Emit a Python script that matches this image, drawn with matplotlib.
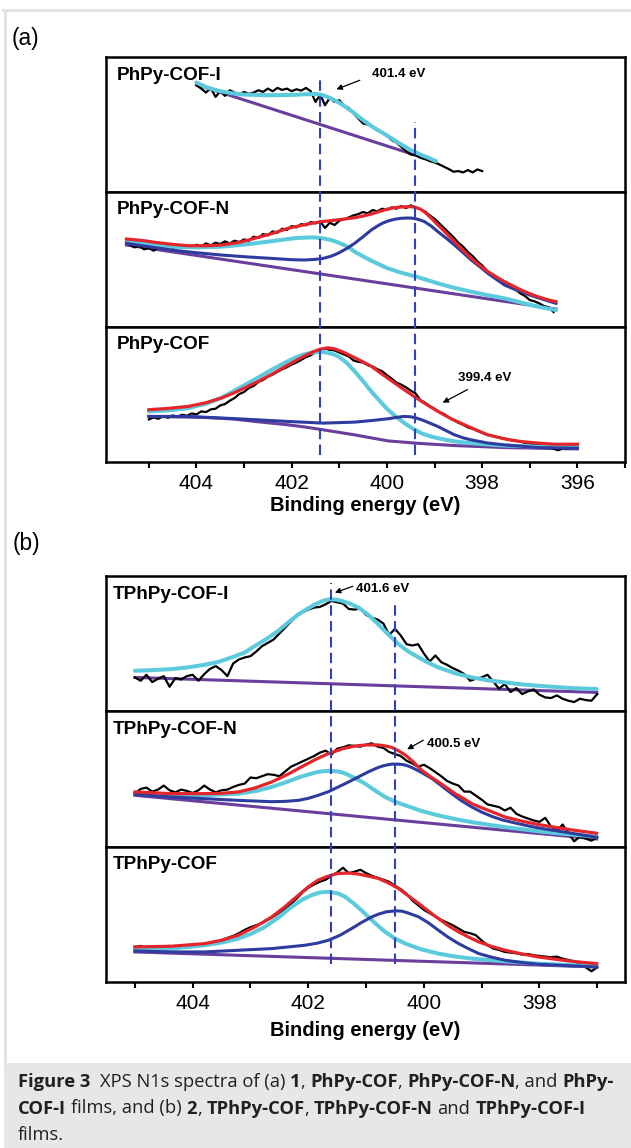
import numpy as np
import matplotlib
matplotlib.use("Agg")
import matplotlib.pyplot as plt
from matplotlib.ticker import MultipleLocator
from matplotlib.lines import Line2D
from matplotlib.patches import Rectangle

W, H, DPI = 631, 1148, 100
plt.rcParams["font.family"] = ["Liberation Sans", "DejaVu Sans"]

RED = "#e4262b"
CYAN = "#5ccadd"
BLUE = "#2d3c9e"
PURPLE = "#6a3e9c"
DASH = "#3042b6"

# ---------------- (a) PhPy-COF films, N1s ----------------
A_PEAKS = [401.4, 399.4]

# PhPy-COF-I
a1_raw_range = (404.0, 398.0)
a1_raw = [320, 310, 298, 312, 285, 302, 288, 305, 298, 292,
          300, 294, 298, 305, 300, 310, 302, 312, 306, 310,
          302, 308, 304, 312, 302, 270, 292, 260, 282, 270,
          275, 258, 252, 235, 220, 205, 202, 195, 188, 178,
          170, 155, 148, 135, 122, 112, 110, 102, 98, 92,
          88, 82, 75, 68, 60, 62, 58, 65, 58, 67, 62]
a1_c1_e = [404.0, 403.85, 403.75, 403.6, 403.5, 403.25, 403.0, 402.5, 402.0, 401.7, 401.5,
           401.4, 401.3, 401.2, 401.1, 401.0, 400.9, 400.8, 400.7, 400.6, 400.5,
           400.4, 400.3, 400.2, 400.1, 399.9, 399.7, 399.5, 399.3, 399.1, 398.97]
a1_c1_i = [328, 318, 312, 306, 302, 296, 292, 290, 291, 293, 294,
           292, 288, 282, 275, 267, 258, 248, 238, 226, 215,
           205, 195, 186, 178, 160, 142, 125, 112, 100, 92]
a1_bg_e = [404.0, 398.97]
a1_bg_i = [322, 90]

# PhPy-COF-N
a2_raw_range = (405.4, 396.5)
a2_raw = [246, 238, 242, 232, 236, 228, 238, 234, 242, 236,
          244, 238, 245, 240, 246, 241, 250, 244, 252, 248,
          256, 250, 258, 254, 262, 258, 270, 266, 278, 274,
          286, 282, 294, 290, 302, 298, 308, 304, 314, 310,
          316, 296, 312, 305, 318, 322, 328, 334, 338, 344,
          340, 350, 346, 354, 350, 358, 354, 362, 356, 364,
          358, 352, 346, 334, 324, 310, 296, 282, 268, 252,
          240, 224, 212, 196, 184, 168, 158, 148, 140, 130,
          122, 112, 100, 92, 80, 76, 70, 62, 58, 44]
a2_env_e = [405.47, 405.1, 404.87, 404.5, 404.17, 403.8, 403.48, 403.1, 402.78, 402.4, 402.08,
            401.7, 401.38, 401.0, 400.68, 400.5, 400.33, 400.15, 399.98, 399.85, 399.7, 399.58,
            399.49, 399.4, 399.3, 399.2, 399.07, 398.93, 398.75, 398.58, 398.4, 398.23, 398.05,
            397.88, 397.7, 397.53, 397.35, 397.18, 397.0, 396.83, 396.65, 396.45]
a2_env_i = [263, 258, 253, 247, 243, 243, 245, 253, 265, 280, 295,
            307, 315, 321, 327, 332, 338, 346, 353, 357, 359, 360,
            360, 358, 353, 343, 326, 305, 280, 255, 229, 205, 184,
            165, 149, 135, 122, 110, 99, 90, 82, 75]
a2_c1_e = [405.47, 405.0, 404.52, 404.0, 403.48, 403.1, 402.78, 402.4, 402.08, 401.9, 401.75,
           401.6, 401.45, 401.3, 401.17, 401.03, 400.9, 400.78, 400.68, 400.5, 400.33, 400.15,
           399.98, 399.7, 399.38, 398.93, 398.6, 398.23, 397.9, 397.53, 397.2, 396.83, 396.45]
a2_c1_i = [255, 247, 240, 238, 240, 245, 250, 257, 263, 266, 267,
           268, 267, 264, 260, 253, 245, 236, 225, 211, 198, 186,
           175, 162, 150, 130, 117, 105, 95, 85, 73, 60, 50]
a2_c2_e = [405.47, 405.0, 404.52, 404.0, 403.48, 402.9, 402.43, 402.0, 401.73, 401.5, 401.34,
           401.18, 401.03, 400.85, 400.68, 400.5, 400.33, 400.2, 400.1, 399.98, 399.85, 399.72,
           399.6, 399.5, 399.4, 399.3, 399.21, 399.07, 398.93, 398.75, 398.58, 398.4, 398.23,
           398.05, 397.88, 397.7, 397.53, 397.35, 397.18, 397.0, 396.83, 396.45]
a2_c2_i = [250, 240, 230, 222, 215, 209, 205, 201, 200, 202, 205,
           211, 220, 234, 250, 270, 290, 302, 310, 317, 322, 325,
           326, 326, 324, 320, 315, 302, 285, 265, 245, 222, 200,
           180, 160, 142, 125, 114, 105, 95, 87, 70]
a2_bg_e = [405.47, 396.45]
a2_bg_i = [245, 53]

# PhPy-COF
a3_raw_range = (405.0, 396.0)
a3_raw = [128, 134, 130, 138, 133, 140, 136, 142, 139, 146,
          143, 152, 150, 158, 160, 170, 174, 184, 192, 204,
          210, 222, 228, 240, 246, 256, 262, 270, 278, 284,
          292, 298, 306, 314, 320, 328, 334, 340, 336, 334,
          328, 322, 316, 304, 300, 298, 290, 286, 278, 272,
          260, 250, 238, 232, 224, 214, 206, 186, 178, 168,
          160, 150, 144, 134, 126, 118, 112, 104, 100, 94,
          88, 82, 80, 76, 72, 70, 66, 64, 62, 58,
          56, 54, 52, 50, 44, 40, 36, 42, 40, 44, 42]
a3_env_e = [405.0, 404.6, 404.17, 403.8, 403.48, 403.2, 402.99, 402.7, 402.43, 402.15, 401.87,
            401.7, 401.55, 401.4, 401.24, 401.1, 400.95, 400.8, 400.6, 400.33, 400.1, 399.84,
            399.6, 399.38, 399.15, 398.93, 398.65, 398.37, 398.1, 397.88, 397.5, 397.18, 396.8,
            396.48, 396.0]
a3_env_i = [157, 161, 167, 178, 192, 208, 222, 242, 262, 285, 307,
            320, 330, 338, 342, 339, 331, 321, 307, 287, 263, 237,
            213, 192, 171, 152, 130, 112, 95, 82, 69, 62, 57,
            54, 54]
a3_c1_e = [405.0, 404.6, 404.17, 403.8, 403.48, 403.1, 402.78, 402.4, 402.08, 401.9, 401.75,
           401.6, 401.45, 401.31, 401.15, 401.03, 400.85, 400.68, 400.5, 400.33, 400.15, 399.98,
           399.8, 399.63, 399.45, 399.28, 399.1, 398.93, 398.6, 398.23, 397.53, 396.83, 396.0]
a3_c1_i = [152, 155, 162, 175, 192, 222, 247, 278, 302, 314, 322,
           327, 330, 329, 324, 317, 298, 272, 242, 212, 183, 157,
           135, 117, 100, 87, 78, 72, 63, 57, 50, 47, 45]
a3_c2_e = [405.0, 404.17, 403.13, 402.08, 401.34, 400.68, 400.3, 399.98, 399.8, 399.65, 399.5,
           399.38, 399.25, 399.1, 398.93, 398.75, 398.58, 398.4, 398.23, 397.9, 397.53, 396.83,
           396.0]
a3_c2_i = [137, 137, 130, 122, 117, 120, 125, 130, 134, 137, 136,
           132, 126, 117, 107, 94, 82, 73, 67, 58, 52, 44,
           42]
a3_bg_e = [405.0, 403.83, 403.2, 402.78, 402.08, 401.7, 401.34, 400.68, 399.98, 399.38, 398.58,
           397.53, 396.0]
a3_bg_i = [137, 134, 129, 122, 112, 105, 97, 82, 64, 57, 50,
           44, 40]

# ---------------- (b) TPhPy-COF films, N1s ----------------
B_PEAKS = [401.6, 400.5]

# TPhPy-COF-I
b1_raw_range = (405.0, 397.0)
b1_raw = [100, 90, 108, 86, 96, 104, 72, 98, 94, 104,
          108, 90, 110, 126, 134, 122, 104, 142, 154, 160,
          164, 178, 194, 204, 214, 232, 250, 268, 284, 296,
          304, 310, 312, 320, 330, 326, 322, 306, 304, 308,
          288, 280, 274, 262, 228, 246, 226, 200, 196, 200,
          172, 148, 166, 146, 138, 128, 120, 110, 90, 96,
          100, 108, 88, 66, 80, 56, 68, 50, 58, 64,
          48, 40, 38, 46, 36, 30, 26, 36, 32, 30, 50]
b1_c1_e = [405.0, 404.7, 404.37, 404.1, 403.79, 403.55, 403.33, 403.1, 402.92, 402.72, 402.52,
           402.35, 402.17, 402.02, 401.88, 401.75, 401.64, 401.52, 401.42, 401.28, 401.13, 400.96,
           400.79, 400.62, 400.44, 400.27, 400.09, 399.92, 399.75, 399.45, 399.17, 398.88, 398.59,
           398.3, 398.02, 397.44, 397.01]
b1_c1_i = [120, 122, 125, 130, 138, 147, 160, 175, 195, 216, 240,
           265, 290, 306, 320, 330, 335, 334, 330, 322, 310, 288,
           260, 230, 200, 178, 160, 144, 130, 112, 100, 91, 85,
           79, 75, 68, 65]
b1_bg_e = [405.0, 397.01]
b1_bg_i = [100, 55]

# TPhPy-COF-N
b2_raw_range = (405.0, 397.0)
b2_raw = [158, 172, 176, 164, 170, 182, 168, 162, 170, 166,
          160, 168, 182, 170, 162, 168, 170, 178, 184, 188,
          206, 204, 210, 216, 214, 210, 224, 238, 246, 254,
          262, 270, 280, 286, 274, 292, 296, 302, 300, 298,
          304, 308, 298, 294, 282, 276, 270, 256, 248, 238,
          244, 234, 222, 210, 196, 188, 182, 164, 164, 152,
          140, 126, 122, 118, 108, 116, 98, 90, 84, 78,
          74, 86, 60, 46, 66, 40, 16, 30, 24, 18, 28]
b2_env_e = [405.0, 404.37, 403.79, 403.5, 403.21, 402.92, 402.63, 402.35, 402.06, 401.85, 401.64,
            401.5, 401.4, 401.19, 401.0, 400.79, 400.67, 400.56, 400.44, 400.32, 400.18, 400.04,
            399.9, 399.75, 399.6, 399.46, 399.3, 399.17, 399.0, 398.88, 398.59, 398.3, 398.02,
            397.7, 397.44, 397.01]
b2_env_i = [163, 158, 158, 159, 163, 175, 193, 216, 243, 262, 278,
            286, 292, 300, 303, 303, 300, 296, 286, 273, 252, 228,
            210, 193, 175, 158, 142, 128, 116, 108, 88, 76, 66,
            57, 50, 40]
b2_c1_e = [405.0, 404.37, 403.79, 403.21, 402.9, 402.63, 402.4, 402.17, 402.0, 401.83, 401.72,
           401.64, 401.55, 401.45, 401.36, 401.2, 401.02, 400.85, 400.67, 400.5, 400.32, 400.05,
           399.75, 399.45, 399.17, 398.59, 398.02, 397.44, 397.01]
b2_c1_i = [158, 153, 153, 158, 166, 178, 191, 206, 215, 223, 225,
           226, 225, 223, 218, 205, 188, 168, 148, 134, 123, 107,
           93, 82, 73, 58, 46, 36, 30]
b2_c2_e = [405.0, 404.37, 403.79, 403.21, 402.63, 402.4, 402.17, 402.0, 401.83, 401.65, 401.48,
           401.3, 401.13, 400.96, 400.79, 400.7, 400.62, 400.55, 400.47, 400.38, 400.3, 400.21,
           400.05, 399.86, 399.7, 399.52, 399.35, 399.17, 399.0, 398.82, 398.65, 398.48, 398.25,
           398.02, 397.44, 397.01]
b2_c2_i = [156, 148, 143, 138, 134, 135, 138, 144, 153, 164, 178,
           193, 208, 223, 236, 241, 244, 246, 246, 245, 242, 236,
           222, 203, 182, 158, 137, 118, 103, 90, 80, 73, 64,
           56, 40, 28]
b2_bg_e = [405.0, 397.01]
b2_bg_i = [153, 23]

# TPhPy-COF
b3_raw_range = (405.0, 397.0)
b3_raw = [105, 108, 102, 104, 100, 106, 108, 104, 106, 103,
          106, 110, 108, 114, 118, 125, 132, 138, 146, 156,
          164, 170, 176, 186, 196, 208, 220, 234, 250, 268,
          282, 292, 300, 306, 318, 328, 342, 326, 330, 336,
          326, 318, 312, 306, 300, 288, 278, 264, 244, 230,
          216, 206, 196, 186, 178, 170, 160, 150, 146, 140,
          124, 110, 100, 96, 90, 88, 86, 82, 84, 80,
          78, 76, 74, 76, 70, 66, 62, 54, 44, 32, 44]
b3_env_e = [405.0, 404.37, 403.79, 403.5, 403.21, 402.92, 402.63, 402.4, 402.17, 402.0, 401.83,
            401.7, 401.6, 401.48, 401.3, 401.13, 400.96, 400.79, 400.62, 400.44, 400.27, 400.09,
            399.92, 399.75, 399.58, 399.4, 399.22, 399.05, 398.82, 398.59, 398.3, 398.02, 397.72,
            397.44, 397.01]
b3_env_i = [105, 107, 115, 125, 140, 165, 195, 226, 260, 285, 305,
            314, 320, 325, 326, 323, 317, 310, 297, 280, 258, 235,
            212, 190, 169, 150, 134, 120, 106, 95, 84, 75, 68,
            62, 55]
b3_c1_e = [405.0, 404.37, 403.79, 403.5, 403.21, 402.98, 402.75, 402.5, 402.29, 402.1, 401.94,
           401.8, 401.66, 401.5, 401.36, 401.2, 401.02, 400.85, 400.67, 400.5, 400.32, 400.05,
           399.75, 399.45, 399.17, 398.59, 398.02, 397.01]
b3_c1_i = [100, 100, 110, 118, 130, 145, 165, 195, 225, 247, 260,
           268, 270, 266, 255, 233, 205, 177, 150, 130, 115, 98,
           85, 76, 70, 62, 55, 47]
b3_c2_e = [405.0, 404.37, 403.79, 403.21, 402.63, 402.06, 401.85, 401.65, 401.45, 401.25, 401.08,
           400.9, 400.77, 400.65, 400.55, 400.47, 400.38, 400.3, 400.2, 400.09, 399.92, 399.75,
           399.58, 399.4, 399.22, 399.05, 398.82, 398.59, 398.3, 398.02, 397.01]
b3_c2_i = [93, 90, 90, 95, 100, 110, 116, 125, 140, 160, 178,
           195, 204, 210, 212, 213, 212, 208, 202, 195, 177, 155,
           134, 115, 99, 85, 74, 65, 58, 53, 45]
b3_bg_e = [405.0, 397.01]
b3_bg_i = [90, 45]

PANEL_A = [
    dict(name="PhPy-COF-I", raw=(a1_raw_range, a1_raw), c1=(a1_c1_e, a1_c1_i), bg=(a1_bg_e, a1_bg_i)),
    dict(name="PhPy-COF-N", raw=(a2_raw_range, a2_raw), env=(a2_env_e, a2_env_i),
         c1=(a2_c1_e, a2_c1_i), c2=(a2_c2_e, a2_c2_i), bg=(a2_bg_e, a2_bg_i)),
    dict(name="PhPy-COF", raw=(a3_raw_range, a3_raw), env=(a3_env_e, a3_env_i),
         c1=(a3_c1_e, a3_c1_i), c2=(a3_c2_e, a3_c2_i), bg=(a3_bg_e, a3_bg_i)),
]
PANEL_B = [
    dict(name="TPhPy-COF-I", raw=(b1_raw_range, b1_raw), c1=(b1_c1_e, b1_c1_i), bg=(b1_bg_e, b1_bg_i)),
    dict(name="TPhPy-COF-N", raw=(b2_raw_range, b2_raw), env=(b2_env_e, b2_env_i),
         c1=(b2_c1_e, b2_c1_i), c2=(b2_c2_e, b2_c2_i), bg=(b2_bg_e, b2_bg_i)),
    dict(name="TPhPy-COF", raw=(b3_raw_range, b3_raw), env=(b3_env_e, b3_env_i),
         c1=(b3_c1_e, b3_c1_i), c2=(b3_c2_e, b3_c2_i), bg=(b3_bg_e, b3_bg_i)),
]

fig = plt.figure(figsize=(W / DPI, H / DPI), dpi=DPI)
fig.patch.set_facecolor("white")


def px_box(x0, y0, x1, y1):
    return [x0 / W, 1 - y1 / H, (x1 - x0) / W, (y1 - y0) / H]


def draw_stack(specs, xlim, edges, label_x):
    axes = []
    for k, spec in enumerate(specs):
        ax = fig.add_axes(px_box(106, edges[k], 625, edges[k + 1]))
        ax.set_xlim(*xlim)
        ax.set_ylim(0, 405)
        ax.plot(*spec["bg"], color=PURPLE, lw=2.2, zorder=2)
        (e0, e1), raw = spec["raw"]
        ax.plot(np.linspace(e0, e1, len(raw)), raw, color="black", lw=1.6, zorder=3)
        ax.plot(*spec["c1"], color=CYAN, lw=2.9, zorder=4, solid_capstyle="round",
                solid_joinstyle="round")
        if "c2" in spec:
            ax.plot(*spec["c2"], color=BLUE, lw=2.2, zorder=5, solid_joinstyle="round")
        if "env" in spec:
            ax.plot(*spec["env"], color=RED, lw=2.3, zorder=6, solid_joinstyle="round")
        ax.text(label_x, 0.832, spec["name"], transform=ax.transAxes, fontsize=13.6,
                fontweight="bold", va="baseline", ha="left")
        for sp in ax.spines.values():
            sp.set_linewidth(1.8)
        ax.set_yticks([])
        if k < len(specs) - 1:
            ax.set_xticks([])
        else:
            ax.xaxis.set_major_locator(MultipleLocator(2))
            ax.xaxis.set_minor_locator(MultipleLocator(1))
            ax.tick_params(axis="x", which="both", direction="out", length=4.3,
                           width=1.5, labelsize=15, pad=4)
        axes.append(ax)
    return axes


def draw_dashes(xlim, top, bottom, peaks, spans):
    ov = fig.add_axes(px_box(106, top, 625, bottom))
    ov.set_xlim(*xlim)
    ov.set_ylim(0, 1)
    ov.axis("off")
    for e, (lo, hi) in zip(peaks, spans):
        ov.axvline(e, ymin=lo, ymax=hi, color=DASH, lw=1.5, ls=(0, (5, 2.6)))


def mark(ax, text, tip, tail, text_at):
    ax.annotate("", xy=tip, xytext=tail,
                arrowprops=dict(arrowstyle="-|>", color="black", lw=0.9,
                                mutation_scale=8, shrinkA=0, shrinkB=0))
    ax.text(text_at[0], text_at[1], text, fontsize=9.5, fontweight="bold",
            ha="left", va="center")


# panel (a)
xa = (405.9, 395.0)
axa = draw_stack(PANEL_A, xa, [57, 191.7, 326.7, 462.3], 0.021)
draw_dashes(xa, 57, 462.3, A_PEAKS, [(0.018, 0.946), (0.018, 0.84)])
mark(axa[0], "401.4 eV", (401.06, 308), (400.57, 335), (400.32, 353))
mark(axa[2], "399.4 eV", (398.83, 178), (398.31, 217), (398.5, 253))

# panel (b)
xb = (405.5, 396.52)
axb = draw_stack(PANEL_B, xb, [576, 710.7, 846.7, 982], 0.013)
draw_dashes(xb, 576, 982, B_PEAKS, [(0.044, 0.983), (0.044, 0.938)])
mark(axb[0], "401.6 eV", (401.54, 355), (401.23, 374), (401.17, 365))
mark(axb[1], "400.5 eV", (400.29, 290), (400.01, 317), (399.94, 305))

# panel letters and axis titles
fig.text(12 / W, 1 - 45.5 / H, "(a)", fontsize=16.3, va="baseline", ha="left")
fig.text(13 / W, 1 - 550 / H, "(b)", fontsize=16.3, va="baseline", ha="left")
fig.text(365.5 / W, 1 - 511 / H, "Binding energy (eV)", fontsize=14.5,
         fontweight="bold", ha="center", va="baseline")
fig.text(365.5 / W, 1 - 1036 / H, "Binding energy (eV)", fontsize=14.5,
         fontweight="bold", ha="center", va="baseline")

# page frame and caption strip
fig.add_artist(Line2D([3 / W, 1], [1 - 10 / H] * 2, transform=fig.transFigure,
                      color="#e3e3e3", lw=2.2))
fig.add_artist(Line2D([5 / W] * 2, [1 - 10 / H, 1 - 1063 / H], transform=fig.transFigure,
                      color="#e3e3e3", lw=2.2))
fig.add_artist(Rectangle((4 / W, 0), 1, 1 - 1063 / H, transform=fig.transFigure,
                         facecolor="#e6e7e9", edgecolor="none", zorder=0))

CAPTION = [
    [("Figure 3", "bold"), ("  XPS N1s spectra of (a) ", "normal"), ("1", "bold"), (", ", "normal"),
     ("PhPy-COF", "bold"), (", ", "normal"), ("PhPy-COF-N", "bold"), (", and ", "normal"),
     ("PhPy-", "bold")],
    [("COF-I", "bold"), (" films, and (b) ", "normal"), ("2", "bold"), (", ", "normal"),
     ("TPhPy-COF", "bold"), (", ", "normal"), ("TPhPy-COF-N", "bold"), (" and ", "normal"),
     ("TPhPy-COF-I", "bold")],
    [("films.", "normal")],
]
CAP_FONT = ["Open Sans", "DejaVu Sans"]
renderer = fig.canvas.get_renderer()


def run_width(s, weight, size):
    t = fig.text(0, 0, "|" + s + "|", fontsize=size, fontweight=weight, family=CAP_FONT)
    w1 = t.get_window_extent(renderer).width
    t.set_text("||")
    w2 = t.get_window_extent(renderer).width
    t.remove()
    return w1 - w2


trial = 10.0
line_w = sum(run_width(s, w, trial) for s, w in CAPTION[0])
cap_size = trial * 598 / line_w

for row, baseline in zip(CAPTION, [1087, 1113.5, 1140]):
    x = 18.0
    for s, w in row:
        lead = s[:len(s) - len(s.lstrip())]
        x0 = x + (run_width(lead, w, cap_size) if lead else 0)
        fig.text(x0 / W, 1 - baseline / H, s.strip(), fontsize=cap_size, fontweight=w,
                 family=CAP_FONT, color="#231f20", va="baseline", ha="left")
        x += run_width(s, w, cap_size)

fig.savefig("out.png", dpi=DPI)
